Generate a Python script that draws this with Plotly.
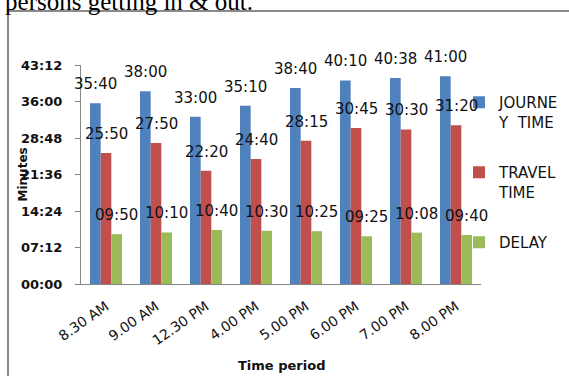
import plotly.graph_objects as go

# Time slots of the survey
periods = ["8.30 AM", "9.00 AM", "12.30 PM", "4.00 PM", "5.00 PM", "6.00 PM", "7.00 PM", "8.00 PM"]

# Durations recorded per slot (mm:ss)
journey_time = ["35:40", "38:00", "33:00", "35:10", "38:40", "40:10", "40:38", "41:00"]
travel_time = ["25:50", "27:50", "22:20", "24:40", "28:15", "30:45", "30:30", "31:20"]
delay_time = ["09:50", "10:10", "10:40", "10:30", "10:25", "09:25", "10:08", "09:40"]

# Value-axis labels (mm:ss)
y_tick_labels = ["00:00", "07:12", "14:24", "21:36", "28:48", "36:00", "43:12"]


def to_seconds(mmss):
    m, s = mmss.split(":")
    return int(m) * 60 + int(s)


series = [
    ("JOURNE<br>Y  TIME", journey_time, "#4F81BD"),
    ("TRAVEL<br>TIME", travel_time, "#C0504D"),
    ("DELAY", delay_time, "#9BBB59"),
]

W, H = 569, 376
L, R, T, B = 81, 88, 65, 92
plot_w = W - L - R
plot_h = H - T - B


def px_x(px):
    return (px - L) / plot_w


def px_y(py):
    return (H - B - py) / plot_h


BARGAP = 0.36
bar_w = (1 - BARGAP) / len(series)

fig = go.Figure()
annotations = []
for k, (name, vals, color) in enumerate(series):
    secs = [to_seconds(v) for v in vals]
    fig.add_trace(go.Bar(
        x=periods, y=secs, name=name, marker=dict(color=color, line=dict(width=0)),
        legendgroup=f"g{k}", hoverinfo="skip",
    ))
    offset = (k - (len(series) - 1) / 2) * bar_w
    for i, (lab, s) in enumerate(zip(vals, secs)):
        annotations.append(dict(
            x=i + offset, y=s, xref="x", yref="y", text=lab, showarrow=False,
            xanchor="center", yanchor="bottom", yshift=8,
            font=dict(family="DejaVu Sans", size=15, color="#111111"),
        ))

# axis titles
annotations.append(dict(
    x=px_x(22), y=0.5, xref="paper", yref="paper", text="<b>Minutes</b>",
    textangle=-90, showarrow=False, xanchor="center", yanchor="middle",
    font=dict(family="DejaVu Sans", size=12, color="#111111"),
))
annotations.append(dict(
    x=0.5, y=px_y(366), xref="paper", yref="paper", text="<b>Time period</b>",
    showarrow=False, xanchor="center", yanchor="middle",
    font=dict(family="DejaVu Sans", size=13, color="#111111"),
))
# running document text above the chart frame
annotations.append(dict(
    x=px_x(255), y=px_y(17), xref="paper", yref="paper",
    text="of persons getting in &amp; out.", showarrow=False,
    xanchor="right", yanchor="bottom",
    font=dict(family="Liberation Serif", size=25, color="#000000"),
))

fig.update_layout(
    width=W, height=H,
    margin=dict(l=L, r=R, t=T, b=B, autoexpand=False),
    paper_bgcolor="white", plot_bgcolor="white",
    barmode="group", bargap=BARGAP, bargroupgap=0,
    font=dict(family="DejaVu Sans", color="#111111"),
    showlegend=True,
    legend=dict(
        x=px_x(459), y=px_y(86), xanchor="left", yanchor="top",
        traceorder="grouped", tracegroupgap=28, valign="top",
        font=dict(family="DejaVu Sans", size=15, color="#111111"),
        bgcolor="rgba(0,0,0,0)",
    ),
    annotations=annotations,
    shapes=[dict(
        type="rect", xref="paper", yref="paper",
        x0=px_x(8), x1=px_x(590), y0=px_y(400), y1=px_y(11),
        line=dict(color="#8a8a8a", width=2), fillcolor="rgba(0,0,0,0)",
    )],
)

fig.update_xaxes(
    type="category", range=[-0.5, len(periods) - 0.5], autorange=False,
    showline=True, linecolor="#868686", linewidth=1,
    ticks="", showgrid=False, tickangle=-35, ticklabelstandoff=8,
    tickfont=dict(family="DejaVu Sans", size=14, color="#111111"),
)
tick_vals = [to_seconds(t) for t in y_tick_labels]
fig.update_yaxes(
    range=[0, tick_vals[-1]], autorange=False,
    tickvals=tick_vals, ticktext=y_tick_labels,
    showline=True, linecolor="#868686", linewidth=1,
    ticks="outside", ticklen=5, tickcolor="#868686",
    showgrid=False, zeroline=False, ticklabelstandoff=10,
    tickfont=dict(family="DejaVu Sans", size=13, color="#111111", weight="bold"),
)

fig.write_html("out.html")
